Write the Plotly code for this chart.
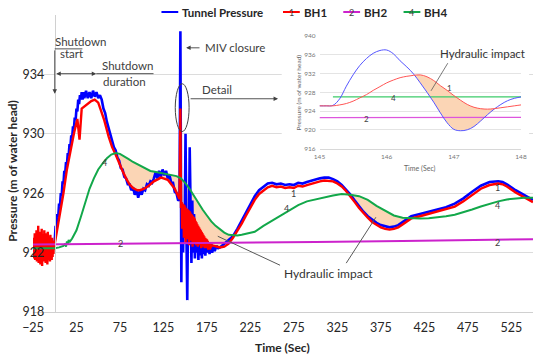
import numpy as np
import plotly.graph_objects as go

# ---------------- main chart data: (time s, pressure m of water head) ----------------
tunnel = [
    (-25, 922.3), (-20, 922.6), (-15, 922.2), (-10, 922.6), (-5, 922.3), (0, 922.8),
    (1, 923.8), (2, 923.6), (3, 924.6), (4, 924.4), (5, 925.3), (6, 925.1), (7, 926.0), (8, 925.8),
    (9, 926.8), (10, 926.6), (11, 927.5), (12, 927.3), (13, 928.1), (14, 927.9), (15, 928.7),
    (16, 928.5), (17, 929.3), (18, 929.1), (19, 929.9), (20, 929.7), (21, 930.5), (22, 930.3),
    (23, 931.1), (24, 930.9), (25, 931.7), (26, 931.5), (27, 932.3), (28, 932.0), (29, 932.6),
    (30, 932.3), (31, 932.8), (32, 932.3), (33, 932.8), (34, 932.4), (36, 932.9), (38, 932.4),
    (40, 932.8), (42, 932.4), (44, 932.9), (46, 932.5), (48, 932.8), (50, 932.4), (52, 932.6),
    (54, 932.3), (56, 931.7), (58, 931.4), (60, 930.8), (62, 930.4), (64, 929.9), (66, 929.6),
    (68, 929.1), (70, 928.9), (72, 928.4), (74, 928.2), (76, 927.7), (78, 927.6), (80, 927.1),
    (82, 927.0), (84, 926.6), (86, 926.6), (88, 926.2), (90, 926.4), (92, 925.9), (94, 926.2),
    (96, 925.7), (98, 926.2), (100, 925.9), (102, 926.3), (104, 926.2), (106, 926.6), (108, 926.5),
    (110, 926.8), (112, 926.7), (114, 927.0), (116, 927.4), (118, 927.0), (120, 927.5), (122, 927.1),
    (124, 927.6), (126, 927.2), (128, 927.5), (130, 927.0), (132, 927.2), (134, 926.7), (136, 926.7),
    (138, 926.1), (140, 926.0), (142, 925.5), (143.5, 925.6), (144.5, 936.9), (145.2, 925.0),
    (145.6, 920.0), (146.2, 925.2), (147, 924.3), (147.6, 922.0), (148.4, 924.8), (149.4, 923.0),
    (150.4, 930.0), (151.4, 923.5), (152.4, 918.8), (153.2, 924.0), (154.2, 922.6), (155.2, 929.1),
    (156.2, 923.5), (157.2, 921.3), (158.2, 925.5), (159.2, 922.0), (160.2, 924.6), (161.2, 921.6),
    (162.2, 924.0), (163.2, 922.0), (164.2, 923.6), (165.2, 921.5), (166.2, 923.3), (167.2, 921.8),
    (168.2, 923.2), (169.2, 921.6), (170.2, 923.0), (171.2, 921.9), (172.2, 922.9), (173.2, 921.8),
    (174.2, 922.8), (175.2, 922.0), (177, 922.7), (178, 921.9), (180, 922.6), (181, 922.0),
    (183, 922.5), (184, 922.1), (186, 922.45), (188, 922.3), (190, 922.35), (192, 922.45),
    (195, 922.55), (200, 922.8), (205, 923.1), (210, 923.6), (215, 924.15), (220, 924.75),
    (225, 925.3), (230, 925.8), (235, 926.2), (240, 926.45), (245, 926.65), (250, 926.7),
    (255, 926.6), (260, 926.65), (265, 926.55), (270, 926.6), (275, 926.55), (280, 926.7),
    (285, 926.65), (290, 926.75), (295, 926.85), (300, 926.95), (305, 927.0), (310, 927.05),
    (315, 927.05), (320, 926.95), (325, 926.8), (330, 926.55), (335, 926.25), (340, 925.9),
    (345, 925.5), (350, 925.1), (355, 924.75), (360, 924.45), (365, 924.2), (370, 924.0),
    (375, 923.85), (380, 923.75), (385, 923.7), (390, 923.75), (395, 923.85), (400, 924.05),
    (405, 924.25), (410, 924.45), (420, 924.6), (430, 924.75), (440, 924.9), (450, 925.05),
    (460, 925.3), (470, 925.65), (480, 926.1), (490, 926.5), (500, 926.75), (510, 926.8),
    (515, 926.75), (520, 926.6), (530, 926.2), (540, 925.85), (550, 925.55),
]

bh1 = [
    (-25, 922.4), (0, 922.6), (3, 923.6), (7, 925.0), (10, 926.0), (14, 927.6), (18, 928.9),
    (22, 930.0), (26, 931.0), (31, 931.7), (37, 932.0), (42, 932.2), (46, 932.3), (50, 932.1),
    (53, 931.6), (57, 930.9), (62, 929.8), (66, 929.1), (70, 928.6), (74, 928.0), (78, 927.5),
    (82, 927.0), (86, 926.6), (90, 926.35), (95, 926.2), (98, 926.2), (103, 926.3), (108, 926.5),
    (114, 926.8), (119, 926.95), (122, 927.05), (125, 927.0), (130, 926.9), (134, 926.6),
    (138, 926.3), (142, 925.8),
    (145, 925.5), (150, 925.1), (155, 924.8), (160, 924.4), (165, 923.8), (170, 923.3),
    (175, 922.9), (180, 922.5), (185, 922.4), (190, 922.35), (195, 922.4), (200, 922.6),
    (205, 923.0), (210, 923.45), (215, 923.95), (220, 924.5), (225, 925.05), (230, 925.55),
    (235, 925.95), (240, 926.2), (245, 926.4), (250, 926.5), (255, 926.4), (260, 926.45),
    (265, 926.35), (270, 926.4), (275, 926.35), (280, 926.5), (285, 926.45), (290, 926.55),
    (295, 926.65), (300, 926.75), (305, 926.8), (310, 926.85), (315, 926.85), (320, 926.8),
    (325, 926.65), (330, 926.45), (335, 926.15), (340, 925.8), (345, 925.4), (350, 925.0),
    (355, 924.65), (360, 924.35), (365, 924.05), (370, 923.85), (375, 923.7), (380, 923.6),
    (385, 923.55), (390, 923.6), (395, 923.7), (400, 923.9), (405, 924.1), (410, 924.3),
    (420, 924.45), (430, 924.6), (440, 924.75), (450, 924.9), (460, 925.1), (470, 925.45),
    (480, 925.9), (490, 926.3), (500, 926.55), (510, 926.65), (515, 926.6), (520, 926.45),
    (530, 926.05), (540, 925.7), (550, 925.4),
]

# fluctuating BH1 readings (before start, at MIV closure and just after)
bh1_noise = [
    (-24.5, 921.6), (-24, 923.0), (-23.5, 921.8), (-23, 923.3), (-22.5, 921.5), (-22, 922.9),
    (-21.5, 921.9), (-21, 923.5), (-20.5, 921.4), (-20, 923.1), (-19.5, 921.7), (-19, 923.8),
    (-18.5, 921.3), (-18, 922.8), (-17.5, 921.9), (-17, 923.4), (-16.5, 921.2), (-16, 923.0),
    (-15.5, 921.6), (-15, 923.6), (-14.5, 921.1), (-14, 922.9), (-13.5, 921.8), (-13, 923.2),
    (-12.5, 921.4), (-12, 923.5), (-11.5, 921.7), (-11, 922.8), (-10.5, 921.3), (-10, 923.3),
    (-9.5, 921.6), (-9, 923.0), (-8.5, 921.2), (-8, 923.4), (-7.5, 921.5), (-7, 922.9),
    (-6.5, 921.8), (-6, 923.1), (-5.5, 921.4), (-5, 923.2), (-4.5, 921.6), (-4, 922.9),
    (-3.5, 921.5), (-3, 923.0), (-2.5, 921.7), (-2, 922.8), (-1.5, 921.9), (-1, 922.7),
    (-0.5, 922.2), (28.5, 929.6),
    (143.5, 925.6), (144.5, 931.7), (145.2, 925.0),
    (146, 925.4), (146.5, 923.6), (147, 925.3), (147.5, 924.2), (148, 925.25), (148.5, 923.0),
    (149, 925.2), (149.5, 923.8), (150, 925.1), (150.5, 922.6), (151, 925.0), (151.5, 923.5),
    (152, 924.95), (152.5, 922.9), (153, 924.9), (153.5, 923.4), (154, 924.85), (154.5, 922.5),
    (155, 924.8), (155.5, 923.2), (156, 924.7), (156.5, 922.8), (157, 924.6), (157.5, 923.3),
    (158, 924.55), (158.5, 922.4), (159, 924.45), (159.5, 923.1), (160, 924.4), (160.5, 922.6),
    (161, 924.3), (161.5, 923.0), (162, 924.15), (162.5, 922.5), (163, 924.05), (163.5, 923.0),
    (164, 923.9), (164.5, 922.4), (165, 923.8), (165.5, 922.9), (166, 923.7), (166.5, 922.5),
    (167, 923.6), (167.5, 922.8), (168, 923.5), (168.5, 922.3), (169, 923.4), (169.5, 922.7),
    (170, 923.3), (170.5, 922.4), (171, 923.2), (171.5, 922.6), (172, 923.1), (172.5, 922.3),
    (173, 923.0), (173.5, 922.5), (174, 922.95), (174.5, 922.3), (175, 922.9), (175.5, 922.4),
    (176, 922.8), (176.5, 922.2), (177, 922.7), (177.5, 922.35), (178, 922.65), (178.5, 922.2),
    (179, 922.55), (179.5, 922.3),
]

bh4 = [
    (-25, 922.3), (-15, 922.3), (-5, 922.25), (0, 922.3), (5, 922.35), (10, 922.45), (12, 922.6),
    (13, 922.4), (14, 922.75), (15, 922.55), (16, 922.85), (17, 922.7), (20, 922.95), (25, 923.5),
    (30, 924.4), (35, 925.4), (40, 926.3), (45, 927.0), (50, 927.6), (55, 928.0), (60, 928.35),
    (65, 928.6), (70, 928.7), (75, 928.65), (80, 928.5), (85, 928.3), (90, 928.1), (95, 927.95),
    (100, 927.8), (105, 927.65), (110, 927.5), (115, 927.45), (120, 927.4), (125, 927.35),
    (130, 927.3), (135, 927.25), (140, 927.15), (145, 927.0), (150, 926.7), (155, 926.3),
    (160, 925.8), (165, 925.35), (170, 924.9), (175, 924.5), (180, 924.1), (185, 923.8),
    (190, 923.55), (195, 923.35), (200, 923.2), (205, 923.15), (210, 923.15), (215, 923.2),
    (220, 923.25), (230, 923.4), (240, 923.8), (250, 924.15), (260, 924.5), (270, 924.9),
    (280, 925.2), (290, 925.45), (300, 925.6), (310, 925.75), (320, 925.85), (330, 925.95),
    (335, 925.95), (340, 925.9), (350, 925.8), (360, 925.55), (370, 925.15), (380, 924.8),
    (390, 924.5), (400, 924.35), (410, 924.3), (420, 924.3), (430, 924.32), (440, 924.37),
    (450, 924.45), (460, 924.55), (470, 924.7), (480, 924.9), (490, 925.1), (500, 925.3),
    (510, 925.45), (520, 925.58), (530, 925.66), (540, 925.7), (550, 925.7),
]

bh2 = [(-25, 922.55), (100, 922.6), (200, 922.65), (300, 922.72), (400, 922.78), (500, 922.85), (550, 922.9)]

impact_spans = [(60, 230), (320, 430)]

x_ticks = [-25, 25, 75, 125, 175, 225, 275, 325, 375, 425, 475, 525]
y_ticks = [918, 922, 926, 930, 934]

# ---------------- inset (detail) data ----------------
inset_t = [145.0, 145.1, 145.2, 145.3, 145.4, 145.5, 145.6, 145.7, 145.8, 145.9, 146.0,
           146.1, 146.2, 146.3, 146.4, 146.5, 146.6, 146.7, 146.8, 146.9, 147.0,
           147.1, 147.2, 147.3, 147.4, 147.5, 147.6, 147.7, 147.8, 147.9, 148.0]
inset_tunnel = [925.1, 925.1, 925.2, 926.6, 929.3, 931.7, 933.7, 935.2, 936.3, 936.9, 937.0,
                936.2, 934.7, 933.4, 931.9, 930.0, 928.0, 925.9, 923.6, 921.5, 920.1,
                919.8, 920.0, 920.7, 921.9, 923.2, 924.4, 925.4, 926.2, 926.7, 927.0]
inset_bh1 = [925.1, 925.1, 925.1, 925.3, 925.6, 926.1, 926.8, 927.5, 928.4, 929.2, 930.0,
             930.6, 931.1, 931.4, 931.6, 931.7, 931.3, 930.5, 929.4, 928.4, 927.3,
             926.3, 925.4, 924.8, 924.5, 924.4, 924.5, 924.7, 924.9, 925.1, 925.3]
inset_bh4_t = [145.2, 145.8, 146.4, 147.0, 147.6, 148.0]
inset_bh4 = [927.0, 927.0, 927.05, 927.05, 927.0, 927.0]
inset_bh2_t = [145.0, 145.8, 146.6, 147.4, 148.0]
inset_bh2 = [922.6, 922.6, 922.65, 922.65, 922.65]
inset_x_ticks = [145, 146, 147, 148]
inset_y_ticks = [916, 920, 924, 928, 932, 936, 940]

# ---------------- styling ----------------
BLUE, RED, MAG, GRN = '#0000FF', '#FF0000', '#CC22CC', '#12A84A'
PEACH = '#FBD5B5'
FONT = 'Lato'
TXT = '#404040'


def unzip(pairs):
    return [p[0] for p in pairs], [p[1] for p in pairs]


def lobe_polygons(ut, up, lt, lp, spans, step=0.25):
    xs, ys = [], []
    for a, b in spans:
        g = np.arange(a, b + step / 2, step)
        u = np.interp(g, ut, up)
        lo = np.interp(g, lt, lp)
        idx = np.where(u > lo)[0]
        if len(idx) == 0:
            continue
        for r in np.split(idx, np.where(np.diff(idx) != 1)[0] + 1):
            xs += list(g[r]) + list(g[r][::-1]) + [None]
            ys += list(u[r]) + list(lo[r][::-1]) + [None]
    return xs, ys


tt, tp = unzip(tunnel)
b1t, b1p = unzip(bh1)
b1_all = sorted(bh1 + bh1_noise, key=lambda p: p[0])
b1at, b1ap = unzip(b1_all)
b4t, b4p = unzip(bh4)
b2t, b2p = unzip(bh2)

fig = go.Figure()

# hydraulic impact fill (BH4 above BH1)
fx, fy = lobe_polygons(b4t, b4p, b1t, b1p, impact_spans)
fig.add_trace(go.Scatter(x=fx, y=fy, fill='toself', fillcolor=PEACH, mode='none',
                         hoverinfo='skip', showlegend=False))
fig.add_trace(go.Scatter(x=tt, y=tp, mode='lines', line=dict(color=BLUE, width=2.6), name='Tunnel Pressure', showlegend=False))
fig.add_trace(go.Scatter(x=b1at, y=b1ap, mode='lines', line=dict(color=RED, width=2.4), name='BH1', showlegend=False))
fig.add_trace(go.Scatter(x=b4t, y=b4p, mode='lines', line=dict(color=GRN, width=2), name='BH4', showlegend=False))
fig.add_trace(go.Scatter(x=b2t, y=b2p, mode='lines', line=dict(color=MAG, width=2), name='BH2', showlegend=False))

# inset traces
ix, iy = lobe_polygons(inset_t, inset_bh1, inset_t, inset_tunnel, [(146.2, 147.9)], step=0.02)
fig.add_trace(go.Scatter(x=ix, y=iy, fill='toself', fillcolor=PEACH, mode='none',
                         xaxis='x2', yaxis='y2', hoverinfo='skip', showlegend=False))
fig.add_trace(go.Scatter(x=inset_bh4_t, y=inset_bh4, mode='lines', line=dict(color='#3DCB6A', width=1.2),
                         xaxis='x2', yaxis='y2', showlegend=False))
fig.add_trace(go.Scatter(x=inset_bh2_t, y=inset_bh2, mode='lines', line=dict(color='#DD55DD', width=1.2),
                         xaxis='x2', yaxis='y2', showlegend=False))
fig.add_trace(go.Scatter(x=inset_t, y=inset_tunnel, mode='lines', line=dict(color='#5555FF', width=1, shape='spline'),
                         xaxis='x2', yaxis='y2', showlegend=False))
fig.add_trace(go.Scatter(x=inset_t, y=inset_bh1, mode='lines', line=dict(color='#FF5555', width=1, shape='spline'),
                         xaxis='x2', yaxis='y2', showlegend=False))

shapes = []
# white backing of the inset picture (hides main gridlines there)
shapes.append(dict(type='rect', xref='x', yref='y', x0=261, x1=545.5, y0=927.4, y1=937.5,
                   fillcolor='white', line=dict(width=0), layer='between'))
# annotation lines
LINE = dict(color='#404040', width=0.9)
shapes += [
    dict(type='line', xref='x', yref='y', x0=0, x1=31.8, y0=935.72, y1=935.72, line=LINE),
    dict(type='line', xref='x', yref='y', x0=47.7, x1=113.6, y0=934.05, y1=934.05, line=LINE),
    dict(type='circle', xref='x', yref='y', x0=138.6, x1=154.5, y0=930.15, y1=933.37,
         line=dict(color='#404040', width=1)),
    dict(type='line', xref='x', yref='y', x0=187.5, x1=259.1, y0=923.1, y1=921.15, line=dict(color='#595959', width=1)),
    dict(type='line', xref='x', yref='y', x0=335.2, x1=369.3, y0=921.29, y1=924.38, line=dict(color='#595959', width=1)),
    dict(type='line', xref='x2', yref='y2', x0=146.91, x1=146.66, y0=934.2, y1=928.3, line=dict(color='#595959', width=0.8)),
]

# manual legend
legend_items = [('Tunnel Pressure', BLUE, '', 163, 180, 182),
                ('BH1', RED, '1', 286, 303, 305),
                ('BH2', MAG, '2', 347, 364, 366),
                ('BH4', GRN, '4', 408, 425, 427)]
LEG_Y = (312 - 11) / 298
annotations = []
for name, col, dig, a, b, tx in legend_items:
    shapes.append(dict(type='line', xref='paper', yref='paper', x0=(a - 33) / 506, x1=(b - 33) / 506,
                       y0=LEG_Y, y1=LEG_Y, line=dict(color=col, width=2)))
    if dig:
        annotations.append(dict(xref='paper', yref='paper', x=((a + b) / 2 - 33) / 506, y=LEG_Y, text=dig,
                                showarrow=False, xanchor='center', yanchor='middle',
                                font=dict(family=FONT, size=9, color=TXT)))
    annotations.append(dict(xref='paper', yref='paper', x=(tx - 33) / 506, y=LEG_Y, text='<b>%s</b>' % name,
                            xanchor='left', yanchor='middle', showarrow=False,
                            font=dict(family=FONT, size=11.5, color='#262626')))


def txt(x, y, s, size=11.5, xanchor='left', ref=('x', 'y'), color=TXT, **kw):
    d = dict(x=x, y=y, text=s, xref=ref[0], yref=ref[1], showarrow=False, xanchor=xanchor,
             yanchor='middle', font=dict(family=FONT, size=size, color=color))
    d.update(kw)
    annotations.append(d)


def arrow(x, y, ax, ay, both=False):
    d = dict(x=x, y=y, ax=ax, ay=ay, xref='x', yref='y', axref='x', ayref='y', text='',
             showarrow=True, arrowhead=2, arrowsize=1, arrowwidth=0.9, arrowcolor='#404040',
             standoff=0, startstandoff=0)
    if both:
        d.update(arrowside='end+start', startarrowhead=2, startarrowsize=1)
    annotations.append(d)


txt(-2.3, 936.19, 'Shutdown')
txt(3.4, 935.38, 'start')
arrow(0, 932.7, 0, 935.72)
arrow(47.7, 934.05, 0, 934.05, both=True)
txt(52.3, 934.6, 'Shutdown')
txt(53.4, 933.5, 'duration')
arrow(151.1, 935.79, 168.2, 935.79)
txt(170.5, 935.79, 'MIV closure')
arrow(256.8, 932.36, 154.5, 932.36)
txt(167, 932.97, 'Detail')
txt(314.8, 920.62, 'Hydraulic impact', size=12, xanchor='center', color='#333333')

# curve number labels
for x, y, s in [(275, 926.0, '1'), (509, 926.4, '1'), (56.8, 928.07, '4'), (267, 924.98, '4'),
                (509, 925.18, '4'), (76.1, 922.63, '2'), (509, 922.7, '2')]:
    txt(x, y, s, size=9, xanchor='center')
# inset labels
for x, y, s in [(146.93, 928.9, '1'), (146.1, 926.8, '4'), (145.7, 922.35, '2')]:
    txt(x, y, s, size=8, xanchor='center', ref=('x2', 'y2'))
txt(147.43, 936.3, 'Hydraulic impact', size=11.5, xanchor='center', ref=('x2', 'y2'), color='#333333')

# axis titles
txt(-0.0415, 0.4765, '<b>Pressure (m of water head)</b>', size=12, xanchor='center', ref=('paper', 'paper'),
    textangle=-90, color='#262626')
txt(0.498, -0.1208, '<b>Time (Sec)</b>', size=12, xanchor='center', ref=('paper', 'paper'), color='#262626')
txt(0.7747, 0.4832, 'Time (Sec)', size=7, xanchor='center', ref=('paper', 'paper'), color='#666666')
txt(0.5316, 0.738, 'Pressure (m of water head)', size=6.5, xanchor='center', ref=('paper', 'paper'),
    textangle=-90, color='#666666')

fig.update_layout(
    width=550, height=361,
    margin=dict(l=33, r=11, t=14, b=49),
    paper_bgcolor='white', plot_bgcolor='white',
    showlegend=False,
    font=dict(family=FONT, size=12, color=TXT),
    xaxis=dict(range=[-25, 550], tickvals=x_ticks, showgrid=False, zeroline=False,
               showline=True, linecolor='#D0D0D0', linewidth=1, ticks='',
               tickfont=dict(family=FONT, size=12.5, color='#262626'), ticklabelstandoff=4),
    yaxis=dict(range=[918, 938], tickvals=y_ticks, showgrid=True, gridcolor='#DCDCDC', gridwidth=1,
               zeroline=False, showline=True, linecolor='#D0D0D0', anchor='free', position=25 / 575,
               ticks='', tickfont=dict(family=FONT, size=12.5, color='#262626'), ticklabelstandoff=8),
    xaxis2=dict(domain=[0.573, 0.976], anchor='y2', range=[145, 148], tickvals=inset_x_ticks,
                showgrid=False, zeroline=False, showline=True, linecolor='#D8D8D8', ticks='',
                tickfont=dict(family=FONT, size=6.5, color='#777777'), ticklabelstandoff=2),
    yaxis2=dict(domain=[0.5503, 0.9295], anchor='x2', range=[916, 940], tickvals=inset_y_ticks,
                showgrid=True, gridcolor='#E4E4E4', zeroline=False, showline=False, ticks='',
                tickfont=dict(family=FONT, size=6.5, color='#777777'), ticklabelstandoff=3),
    shapes=shapes,
    annotations=annotations,
)

fig.write_html('out.html', config={'displayModeBar': False},
               post_script="document.body.style.margin='0';")
